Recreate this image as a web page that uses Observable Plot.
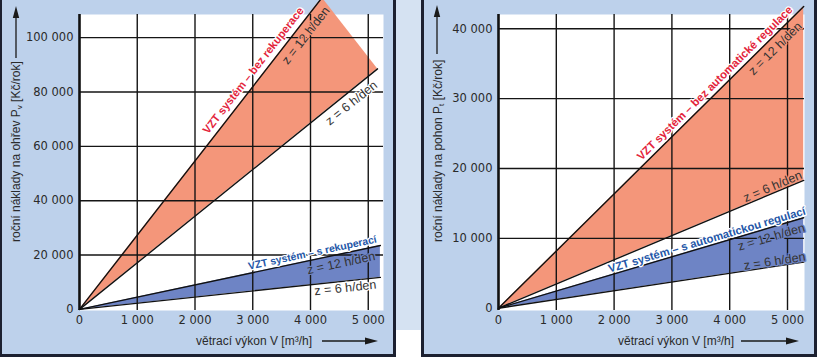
<!DOCTYPE html>
<html>
<head>
<meta charset="utf-8">
<script src="https://cdn.jsdelivr.net/npm/d3@7"></script>
<script src="https://cdn.jsdelivr.net/npm/@observablehq/plot@0.6"></script>
<style>
  body { margin: 0; background: #ffffff; }
  #wrap { position: relative; width: 818px; height: 358px; overflow: hidden; background: #ffffff; }
  .panel { position: absolute; box-sizing: border-box; background: #bdd1eb; border: 3px solid #1c2030; }
  #leftPanel { left: 0; top: -6px; width: 396px; height: 363px; border-left-width: 2.5px; }
  #rightPanel { left: 421px; top: -6px; width: 396px; height: 363px; }
  #strip { position: absolute; left: 396px; top: 0; width: 25px; height: 330px; background: #d5e2f2; }
  .chart { position: absolute; top: 0; }
  #leftChart { left: 0; }
  #rightChart { left: 421px; }
  #overlay { position: absolute; left: 0; top: 0; }
</style>
</head>
<body>
<div id="wrap">
  <div id="strip"></div>
  <div class="panel" id="leftPanel"></div>
  <div class="panel" id="rightPanel"></div>
  <div class="chart" id="leftChart"></div>
  <div class="chart" id="rightChart"></div>
  <svg id="overlay" width="818" height="358">
    <g font-family="Liberation Sans" font-size="12" fill="#2a2a2a">
      <text transform="translate(20,242) rotate(-90)">roční náklady na ohřev P<tspan font-size="8" dy="2">v</tspan><tspan dy="-2"> [Kč/rok]</tspan></text>
      <text transform="translate(442,242) rotate(-90)">roční náklady na pohon P<tspan font-size="8" dy="2">t</tspan><tspan dy="-2"> [Kč/rok]</tspan></text>
      <text x="254" y="345" text-anchor="middle">větrací výkon V [m³/h]</text>
      <text x="676" y="345" text-anchor="middle">větrací výkon V [m³/h]</text>
    </g>
    <g stroke="#1a1a1a" stroke-width="1.3" fill="#1a1a1a">
      <line x1="16" y1="58" x2="16" y2="15"/>
      <polygon points="16,6 12.8,18 19.2,18" stroke="none"/>
      <line x1="437" y1="54" x2="437" y2="15"/>
      <polygon points="437,5 433.8,17 440.2,17" stroke="none"/>
      <line x1="322" y1="341" x2="367" y2="341"/>
      <polygon points="378,341 365,337.6 365,344.4" stroke="none"/>
      <line x1="741" y1="341" x2="788" y2="341"/>
      <polygon points="799,341 786,337.6 786,344.4" stroke="none"/>
    </g>
  </svg>
</div>
<script>
// ---- tick values ----
const V_TICKS = [0, 1000, 2000, 3000, 4000, 5000];
const HEAT_TICKS = [0, 20000, 40000, 60000, 80000, 100000];
const DRIVE_TICKS = [0, 10000, 20000, 30000, 40000];

// ---- straight cost lines: [větrací výkon V (m3/h), roční náklady (Kč/rok)] at start and end ----
const heatNoRecovery12 = [[0, 0], [4200, 114700]];
const heatNoRecovery6 = [[0, 0], [5160, 88500]];
const heatRecovery12 = [[0, 0], [5210, 23500]];
const heatRecovery6 = [[0, 0], [5210, 11800]];
const driveNoControl12 = [[0, 0], [5280, 43200]];
const driveNoControl6 = [[0, 0], [5280, 18300]];
const driveControl12 = [[0, 0], [5280, 12950]];
const driveControl6 = [[0, 0], [5280, 6600]];

// ---- texts ----
const heatSystemNames = ["VZT systém – bez rekuperace", "VZT systém – s rekuperací"];
const driveSystemNames = ["VZT systém – bez automatické regulace", "VZT systém – s automatickou regulací"];
const hoursLabels = ["z = 12 h/den", "z = 6 h/den"];

const ORANGE = "#f4967a", BLUE = "#6e84c5", RED = "#e3243b", DBLUE = "#2457a8", GREY = "#333333";
const fmt = d => d3.format(",")(d).replace(/,/g, " ");

function panel(cfg) {
  const {width, mL, mR, xMax, yDom, yTicks, bands, labels} = cfg;
  const H = 358, mT = 14, mB = 48;
  const kx = (width - mL - mR) / xMax;
  const ky = (H - mT - mB) / (yDom[1] - yDom[0]);
  const marks = [Plot.frame({fill: "white", stroke: "none"})];
  for (const b of bands) {
    marks.push(Plot.area(d3.zip(b.upper, b.lower), {
      x1: d => d[0][0], y1: d => d[0][1], x2: d => d[1][0], y2: d => d[1][1], fill: b.fill
    }));
  }
  marks.push(Plot.ruleX(V_TICKS.slice(1), {stroke: "#151515", strokeWidth: 1.4}));
  marks.push(Plot.ruleY(yTicks.slice(1), {stroke: "#151515", strokeWidth: 1.4}));
  for (const b of bands) for (const l of [b.upper, b.lower]) {
    marks.push(Plot.line(l, {x: d => d[0], y: d => d[1], stroke: "#111", strokeWidth: 1.4}));
  }
  marks.push(Plot.ruleX([0], {stroke: "#111", strokeWidth: 2.6}));
  for (const lab of labels) {
    const slope = lab.line[1][1] / lab.line[1][0];
    const a = Math.atan(slope * ky / kx);
    const rot = -a * 180 / Math.PI;
    const dx = -lab.d * Math.sin(a), dy = -lab.d * Math.cos(a);
    marks.push(Plot.text([lab], {
      x: d => d.v, y: d => d.v * slope, text: d => d.text,
      rotate: rot, dx, dy, textAnchor: "middle", lineAnchor: "middle",
      fontFamily: "Liberation Sans", fontSize: lab.size, fontWeight: lab.bold ? "bold" : "normal",
      fill: lab.color, stroke: lab.halo, strokeWidth: 2.5, paintOrder: "stroke"
    }));
  }
  return Plot.plot({
    width, height: H, marginLeft: mL, marginRight: mR, marginTop: mT, marginBottom: mB,
    x: {domain: [0, xMax], ticks: V_TICKS, tickFormat: fmt, tickSize: 0, tickPadding: 5, label: null},
    y: {domain: yDom, ticks: yTicks, tickFormat: fmt, tickSize: 0, tickPadding: 6, label: null},
    style: {background: "transparent", fontFamily: "DejaVu Sans", fontSize: "11.5px", color: "#2a2a2a"},
    marks
  });
}

const left = panel({
  width: 396, mL: 79, mR: 13, xMax: 5264, yDom: [-400, 108500], yTicks: HEAT_TICKS,
  bands: [
    {upper: heatNoRecovery12, lower: heatNoRecovery6, fill: ORANGE},
    {upper: heatRecovery12, lower: heatRecovery6, fill: BLUE}
  ],
  labels: [
    {text: heatSystemNames[0], line: heatNoRecovery12, v: 3140, d: 9.5, size: 11.2, bold: true, color: RED, halo: "white"},
    {text: hoursLabels[0], line: heatNoRecovery12, v: 3777, d: -10.5, size: 12.5, color: GREY, halo: ORANGE},
    {text: hoursLabels[1], line: heatNoRecovery6, v: 4597, d: -10.2, size: 12.5, color: GREY, halo: "white"},
    {text: heatSystemNames[1], line: heatRecovery12, v: 4057, d: 7, size: 10.4, bold: true, color: DBLUE, halo: "white"},
    {text: hoursLabels[0], line: heatRecovery12, v: 4497, d: -9.1, size: 12.5, color: GREY, halo: BLUE},
    {text: hoursLabels[1], line: heatRecovery6, v: 4590, d: -6.8, size: 12.5, color: GREY, halo: "white"}
  ]
});
document.getElementById("leftChart").append(left);

const right = panel({
  width: 397, mL: 77, mR: 14, xMax: 5294, yDom: [-330, 42050], yTicks: DRIVE_TICKS,
  bands: [
    {upper: driveNoControl12, lower: driveNoControl6, fill: ORANGE},
    {upper: driveControl12, lower: driveControl6, fill: BLUE}
  ],
  labels: [
    {text: driveSystemNames[0], line: driveNoControl12, v: 3840, d: 8, size: 11.3, bold: true, color: RED, halo: "white"},
    {text: hoursLabels[0], line: driveNoControl12, v: 4666, d: -10, size: 12.5, color: GREY, halo: ORANGE},
    {text: hoursLabels[1], line: driveNoControl6, v: 4785, d: 6.4, size: 12.5, color: GREY, halo: ORANGE},
    {text: driveSystemNames[1], line: driveControl12, v: 3635, d: 6.2, size: 11.3, bold: true, color: DBLUE, halo: "white"},
    {text: hoursLabels[0], line: driveControl12, v: 4673, d: -9.4, size: 12.5, color: GREY, halo: BLUE},
    {text: hoursLabels[1], line: driveControl6, v: 4789, d: 5.2, size: 12.5, color: GREY, halo: BLUE}
  ]
});
document.getElementById("rightChart").append(right);
</script>
</body>
</html>
